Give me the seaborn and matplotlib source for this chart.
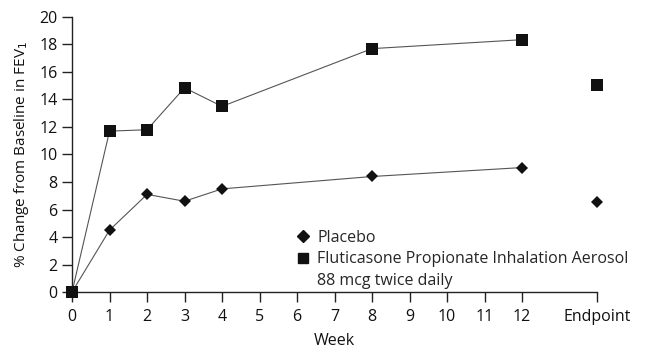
import numpy as np
import pandas as pd
import seaborn as sns
import matplotlib
matplotlib.use('Agg')
import matplotlib.pyplot as plt
from matplotlib.lines import Line2D

WEEKS = [0, 1, 2, 3, 4, 8, 12]
PLACEBO = [0, 4.5, 7.1, 6.6, 7.5, 8.4, 9.05]
FLUTICASONE = [0, 11.7, 11.8, 14.85, 13.5, 17.7, 18.35]
ENDPOINT_POS = 14
PLACEBO_END = 6.55
FLUTICASONE_END = 15.05
XTICKS = list(range(0, 13)) + [ENDPOINT_POS]
XTICKLABELS = [str(x) for x in range(0, 13)] + ["Endpoint"]
GROUPS = ["Placebo", "Fluticasone Propionate Inhalation Aerosol"]
DOSE_NOTE = "88 mcg twice daily"

sns.set_style("white")
plt.rcParams['font.family'] = ['Open Sans', 'DejaVu Sans']

df = pd.DataFrame({
    "week": WEEKS * 2,
    "change": PLACEBO + FLUTICASONE,
    "group": [GROUPS[0]] * len(WEEKS) + [GROUPS[1]] * len(WEEKS),
})
df_end = pd.DataFrame({
    "week": [ENDPOINT_POS, ENDPOINT_POS],
    "change": [PLACEBO_END, FLUTICASONE_END],
    "group": GROUPS,
})

fig = plt.figure(figsize=(6.46, 3.64), dpi=100)
ax = fig.add_axes([0.1115, 0.1978, 0.8127, 0.7555])

markers = {GROUPS[0]: "D", GROUPS[1]: "s"}
sizes = {GROUPS[0]: 6.0, GROUPS[1]: 8.5}
for g in GROUPS:
    sub = df[df["group"] == g]
    sns.lineplot(x="week", y="change", data=sub, ax=ax, color="#555555", linewidth=0.8,
                 marker=markers[g], markersize=sizes[g], markerfacecolor="#111111",
                 markeredgewidth=0, legend=False, zorder=3, clip_on=False)
    end = df_end[df_end["group"] == g]
    ax.plot(end["week"], end["change"], linestyle="none", marker=markers[g],
            markersize=sizes[g], markeredgewidth=0, color="#111111", zorder=3, clip_on=False)

ax.set_xlim(0, ENDPOINT_POS)
ax.set_ylim(0, 20)
ax.set_xticks(XTICKS)
ax.set_xticklabels(XTICKLABELS)
ax.set_yticks(np.arange(0, 21, 2))
ax.tick_params(axis="both", direction="out", length=7, width=1, color="#222222",
               labelsize=11.5, labelcolor="#111111", bottom=True, left=True)
ax.tick_params(axis="x", pad=5)
for side in ["top", "right"]:
    ax.spines[side].set_visible(False)
for side in ["left", "bottom"]:
    ax.spines[side].set_color("#222222")
    ax.spines[side].set_linewidth(1)

ax.set_xlabel("Week", fontsize=11.5, color="#111111", labelpad=6)
ax.set_ylabel("% Change from Baseline in FEV$_1$", fontsize=11, color="#111111", labelpad=6)

handles = [Line2D([], [], linestyle="none", marker="D", markersize=6, color="#111111"),
           Line2D([], [], linestyle="none", marker="s", markersize=7, color="#111111"),
           Line2D([], [], linestyle="none", marker=None)]
ax.legend(handles, GROUPS + [DOSE_NOTE], loc="upper left", bbox_to_anchor=(0.415, 0.25),
          frameon=False, fontsize=11.5, handlelength=0.8, handletextpad=0.5,
          borderaxespad=0, labelspacing=0.35)

fig.savefig("out.png", dpi=100)
